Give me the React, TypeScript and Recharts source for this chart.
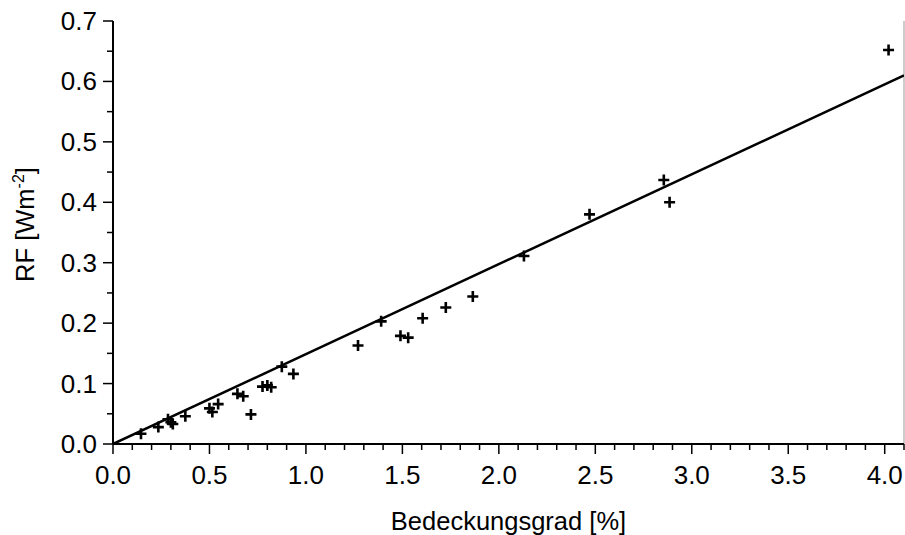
import { ScatterChart, Scatter, XAxis, YAxis, ReferenceLine } from 'recharts';

// cloud cover [%] vs. radiative forcing [W m^-2]
const coverage = [
  0.145, 0.235, 0.285, 0.3, 0.31, 0.375, 0.5, 0.515, 0.545, 0.645, 0.675, 0.715, 0.775, 0.8,
  0.82, 0.875, 0.935, 1.27, 1.39, 1.49, 1.53, 1.605, 1.725, 1.865, 2.13, 2.47, 2.855, 2.885, 4.02,
];
const forcing = [
  0.017, 0.028, 0.041, 0.036, 0.033, 0.046, 0.059, 0.053, 0.066, 0.083, 0.079, 0.049, 0.095, 0.097,
  0.094, 0.128, 0.116, 0.163, 0.203, 0.179, 0.176, 0.208, 0.226, 0.244, 0.311, 0.38, 0.437, 0.4, 0.652,
];

// linear fit through the origin
const fitX = [0, 4.1];
const fitY = [0, 0.61];

const xMajor = [0, 0.5, 1, 1.5, 2, 2.5, 3, 3.5, 4];
const yMajor = [0, 0.1, 0.2, 0.3, 0.4, 0.5, 0.6, 0.7];
const xTicks = Array.from({ length: 42 }, (_, i) => i / 10);
const yTicks = Array.from({ length: 15 }, (_, i) => i / 20);

const points = coverage.map((x, i) => ({ x, y: forcing[i] }));
const fitLine = fitX.map((x, i) => ({ x, y: fitY[i] }));

const FONT = '"Liberation Sans", Arial, Helvetica, sans-serif';

const isMajor = (v: number, list: number[]) => list.some((m) => Math.abs(m - v) < 1e-6);

const BottomTick = (props: any) => {
  const { x, y, payload } = props;
  const major = isMajor(payload.value, xMajor);
  return (
    <g>
      <line x1={x} x2={x} y1={y} y2={y + (major ? 10 : 6)} stroke="#000" strokeWidth={1.5} />
      {major && (
        <text x={x} y={y + 40} textAnchor="middle" fontSize={26} fontFamily={FONT} fill="#000">
          {payload.value.toFixed(1)}
        </text>
      )}
    </g>
  );
};

const TopTick = (props: any) => {
  const { x, y, payload } = props;
  const major = isMajor(payload.value, xMajor);
  return <line x1={x} x2={x} y1={y} y2={y - (major ? 10 : 6)} stroke="#000" strokeWidth={1.5} />;
};

const LeftTick = (props: any) => {
  const { x, y, payload } = props;
  const major = isMajor(payload.value, yMajor);
  return (
    <g>
      <line x1={x} x2={x - (major ? 10 : 6)} y1={y} y2={y} stroke="#000" strokeWidth={1.5} />
      {major && (
        <text x={x - 16} y={y + 9} textAnchor="end" fontSize={26} fontFamily={FONT} fill="#000">
          {payload.value.toFixed(1)}
        </text>
      )}
    </g>
  );
};

const Plus = (props: any) => {
  const { cx, cy } = props;
  const r = 5.5;
  return (
    <path
      d={`M${cx - r},${cy}H${cx + r}M${cx},${cy - r}V${cy + r}`}
      stroke="#000"
      strokeWidth={2.6}
      fill="none"
    />
  );
};

const XLabel = ({ viewBox }: any) => (
  <text
    x={viewBox.x + viewBox.width / 2}
    y={530}
    textAnchor="middle"
    fontSize={25.5}
    fontFamily={FONT}
    fill="#000"
  >
    Bedeckungsgrad [%]
  </text>
);

const YLabel = ({ viewBox }: any) => {
  const cy = viewBox.y + viewBox.height / 2 - 8;
  return (
    <text
      x={34}
      y={cy}
      transform={`rotate(-90, 34, ${cy})`}
      textAnchor="middle"
      fontSize={25.5}
      fontFamily={FONT}
      fill="#000"
    >
      RF [Wm
      <tspan dy={-10} fontSize={16}>-2</tspan>
      <tspan dy={10}>]</tspan>
    </text>
  );
};

export default function App() {
  return (
    <div style={{ position: 'absolute', left: 0, top: 0, background: '#fff' }}>
      <ScatterChart width={905} height={535} margin={{ top: 21, right: 1, bottom: 0, left: 0 }}>
        <XAxis
          xAxisId="top"
          orientation="top"
          type="number"
          dataKey="x"
          domain={[0, 4.1]}
          ticks={xTicks}
          tick={<TopTick />}
          tickSize={0}
          tickMargin={0}
          height={0}
          interval={0}
          axisLine={{ stroke: '#000', strokeWidth: 2 }}
          allowDataOverflow
        />
        <XAxis
          type="number"
          dataKey="x"
          domain={[0, 4.1]}
          ticks={xTicks}
          tick={<BottomTick />}
          tickSize={0}
          tickMargin={0}
          height={91}
          interval={0}
          axisLine={{ stroke: '#000', strokeWidth: 2 }}
          label={<XLabel />}
          allowDataOverflow
        />
        <YAxis
          type="number"
          dataKey="y"
          domain={[0, 0.7]}
          ticks={yTicks}
          tick={<LeftTick />}
          tickSize={0}
          tickMargin={0}
          width={113}
          interval={0}
          axisLine={{ stroke: '#000', strokeWidth: 2 }}
          label={<YLabel />}
          allowDataOverflow
        />
        <ReferenceLine x={4.1} stroke="#999" strokeWidth={1} />
        <Scatter
          data={fitLine}
          line={{ stroke: '#000', strokeWidth: 2.5 }}
          shape={() => <g />}
          isAnimationActive={false}
        />
        <Scatter data={points} shape={<Plus />} isAnimationActive={false} />
      </ScatterChart>
    </div>
  );
}
